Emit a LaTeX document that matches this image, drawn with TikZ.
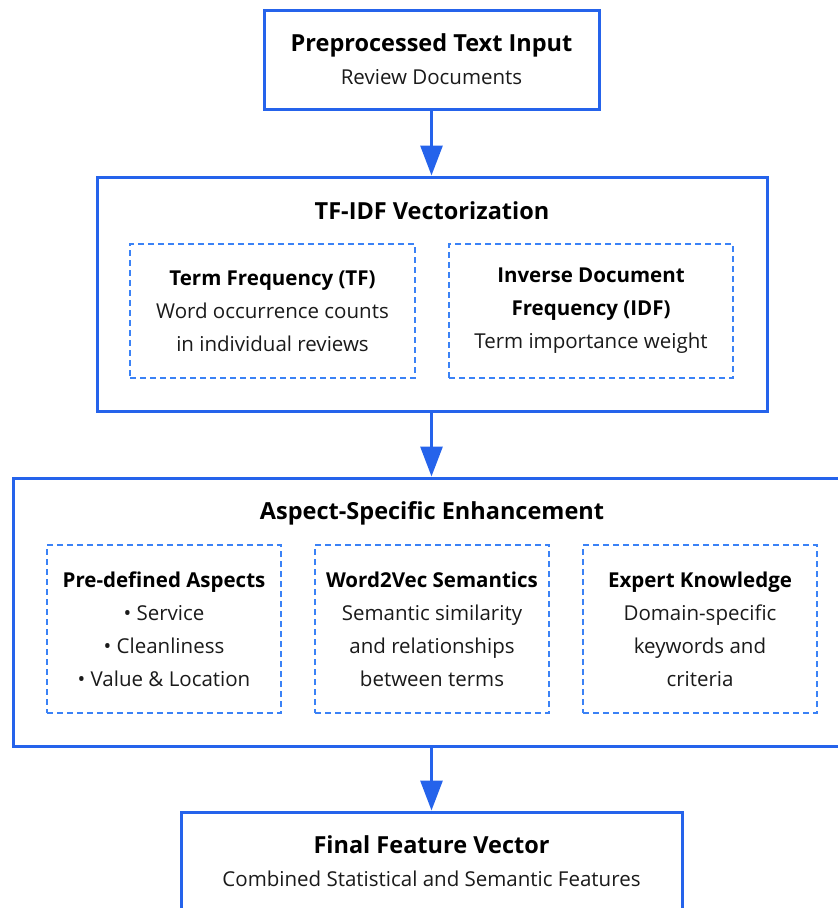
\documentclass[tikz,border=0pt]{standalone}
\usepackage{fontspec}
\setmainfont{Open Sans}
\usetikzlibrary{arrows.meta}
\definecolor{flowblue}{HTML}{2563EB}
\definecolor{subblue}{HTML}{3B82F6}
\definecolor{bodyink}{HTML}{1A1A1A}
% text sizes: body lines, stage titles
\newcommand\dgbody{\fontsize{20.5}{33}\selectfont}
\newcommand\dghead{\fontsize{23.5}{33}\selectfont\bfseries}
\begin{document}
\begin{tikzpicture}[x=1pt,y=-1pt,
  stage/.style={draw=flowblue, line width=3pt, fill=white, inner sep=0pt,
    align=center, font=\dgbody, text=bodyink},
  part/.style={draw=subblue, line width=1.8pt, dash pattern=on 6pt off 4pt,
    inner sep=0pt, align=center, font=\dgbody, text=bodyink},
  stagetitle/.style={inner sep=0pt, font=\dghead, text=black},
  flow/.style={draw=flowblue, line width=3pt,
    -{Triangle[width=22pt,length=30pt]}}
]
\useasboundingbox (0,0) rectangle (838,908);
\clip (0,0) rectangle (838,908);

% input stage
\node[stage, minimum width=335pt, minimum height=99pt] (input) at (431.5,59.5)
  {{\dghead\color{black} Preprocessed Text Input}\\Review Documents};

% TF-IDF stage
\node[stage, minimum width=670pt, minimum height=234pt] (tfidf) at (432,294) {};
\node[stagetitle] (tfidftitle) at (432,211) {TF-IDF Vectorization};
\node[part, minimum width=285pt, minimum height=134pt] (tf) at (272.5,311)
  {\textbf{\color{black}Term Frequency (TF)}\\Word occurrence counts\\in individual reviews};
\node[part, minimum width=284pt, minimum height=134pt] (idf) at (591,311)
  {\textbf{\color{black}Inverse Document}\\\textbf{\color{black}Frequency (IDF)}\\Term importance weight};

% aspect enhancement stage
\node[stage, minimum width=836pt, minimum height=268pt] (aspect) at (431,612) {};
\node[stagetitle] (aspecttitle) at (432,513.5) {Aspect-Specific Enhancement};
\node[part, minimum width=234pt, minimum height=168pt] (aspects) at (164,629)
  {\textbf{\color{black}Pre-defined Aspects}\\• Service\\• Cleanliness\\• Value \& Location};
\node[part, minimum width=234pt, minimum height=168pt] (w2v) at (432,629)
  {\textbf{\color{black}Word2Vec Semantics}\\Semantic similarity\\and relationships\\between terms};
\node[part, minimum width=234pt, minimum height=168pt] (expert) at (700,629)
  {\textbf{\color{black}Expert Knowledge}\\Domain-specific\\keywords and\\criteria};

% output stage
\node[stage, minimum width=501pt, minimum height=99pt] (final) at (431.5,861.5)
  {{\dghead\color{black} Final Feature Vector}\\Combined Statistical and Semantic Features};

% connectors
\draw[flow] (input.south) -- (input.south |- tfidf.north);
\draw[flow] (input.south |- tfidf.south) -- (input.south |- aspect.north);
\draw[flow] (input.south |- aspect.south) -- (final.north);
\end{tikzpicture}
\end{document}
